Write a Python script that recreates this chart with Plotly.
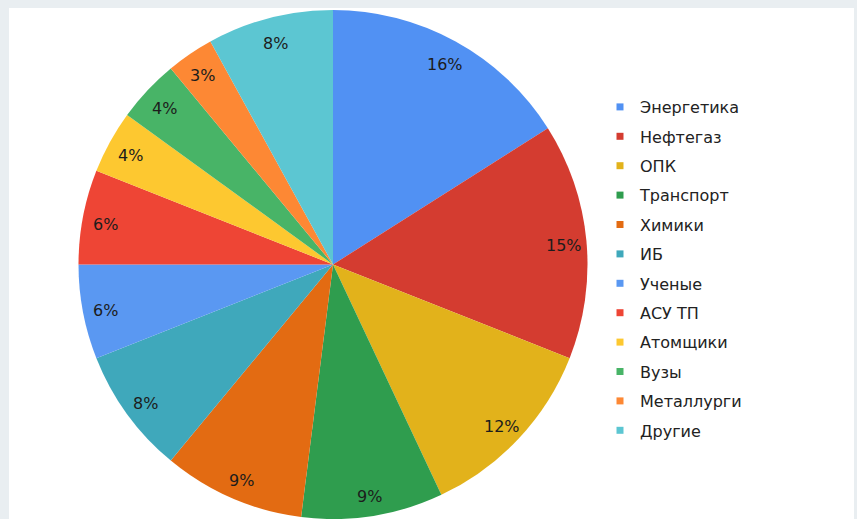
import numpy as np
import plotly.graph_objects as go

labels = ["Энергетика", "Нефтегаз", "ОПК", "Транспорт", "Химики", "ИБ",
          "Ученые", "АСУ ТП", "Атомщики", "Вузы", "Металлурги", "Другие"]
values = [16, 15, 12, 9, 9, 8, 6, 6, 4, 4, 3, 8]
colors = ["#5191f3", "#d43c30", "#e2b21b", "#2f9d4e", "#e36b12", "#3fa8bb",
          "#5a98f2", "#ee4535", "#fdc830", "#48b467", "#fd8834", "#5cc6d2"]

W, H = 857, 519
cx, cy, R = 333, 264.5, 254.5  # центр и радиус круга в пикселях
FONT = "DejaVu Sans"

fig = go.Figure()

fig.add_trace(go.Pie(
    labels=labels, values=values, sort=False, direction="clockwise", rotation=0,
    marker=dict(colors=colors, line=dict(width=0)),
    textinfo="none", hoverinfo="label+percent", showlegend=False,
    domain=dict(x=[(cx - R) / W, (cx + R) / W], y=[0, (H - cy + R) / H]),
))

# Подписи процентов у внешнего края секторов
v = np.array(values, dtype=float)
ends = np.cumsum(v) / v.sum() * 2 * np.pi
mids = ends - v / v.sum() * np.pi
for val, a in zip(values, mids):
    px = cx + 0.91 * R * np.sin(a)
    py = cy + 3 - 0.91 * R * np.cos(a)
    fig.add_annotation(x=px / W, y=1 - py / H, xref="paper", yref="paper",
                       xanchor="center", yanchor="middle",
                       text=f"{val}%", showarrow=False,
                       font=dict(size=16, color="#1c1c1c", family=FONT))

# Легенда с маленькими квадратами
for i, (lab, col) in enumerate(zip(labels, colors)):
    fig.add_trace(go.Scatter(
        x=[None], y=[None], mode="markers", name=lab, legendgroup=str(i),
        marker=dict(symbol="square", size=7, color=col),
    ))

fig.add_shape(type="rect", xref="paper", yref="paper",
              x0=9 / W, x1=854 / W, y0=-0.1, y1=1 - 8 / H,
              fillcolor="white", line=dict(width=0), layer="below")

fig.update_layout(
    width=W, height=H,
    margin=dict(l=0, r=0, t=0, b=0),
    paper_bgcolor="#e9eef1", plot_bgcolor="rgba(0,0,0,0)",
    xaxis=dict(visible=False), yaxis=dict(visible=False),
    font=dict(family=FONT, color="#222222"),
    legend=dict(x=600 / W, y=1 - 90 / H, xanchor="left", yanchor="top",
                font=dict(size=16, color="#222222"), tracegroupgap=5.6,
                itemwidth=30, bgcolor="rgba(0,0,0,0)"),
)

fig.write_html("out.html", config={"displayModeBar": False},
               post_script="document.body.style.margin='0';")
